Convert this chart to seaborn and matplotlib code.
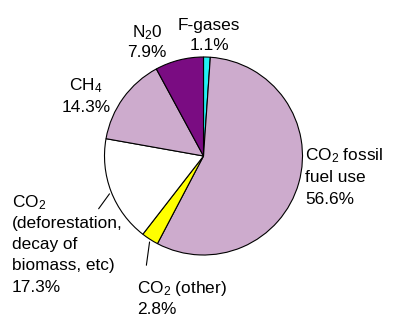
import numpy as np
import matplotlib
matplotlib.use("Agg")
import matplotlib.pyplot as plt
import seaborn as sns

# ---- data (clockwise from 12 o'clock) ----
labels = ["F-gases", "CO2 fossil fuel use", "CO2 (other)",
          "CO2 (deforestation, decay of biomass, etc)", "CH4", "N2O"]
shares = [1.1, 56.6, 2.8, 17.3, 14.3, 7.9]
colors = ["#22F0F4", "#CDABCD", "#FFFF00", "#FFFFFF", "#CDABCD", "#7A0C82"]

sns.set_theme(style="white")
plt.rcParams["font.family"] = ["Liberation Sans", "DejaVu Sans"]
plt.rcParams["mathtext.fontset"] = "custom"
plt.rcParams["mathtext.rm"] = "Liberation Sans"
plt.rcParams["mathtext.it"] = "Liberation Sans"

W, H = 402, 324
fig = plt.figure(figsize=(W / 100, H / 100), dpi=100)
fig.patch.set_facecolor("white")
ax = fig.add_axes([0, 0, 1, 1])

def Y(y):
    return H - y

cx, cy, R = 203.5, Y(156), 99
palette = sns.color_palette(colors)
wedges, _ = ax.pie(shares, colors=palette, startangle=90, counterclock=False,
                   center=(cx, cy), radius=R,
                   wedgeprops=dict(edgecolor="black", linewidth=0.8))
ax.set_xlim(0, W)
ax.set_ylim(0, H)
ax.set_aspect("equal")
ax.axis("off")

fs = 12.4

def line(x, y, s, ha="left"):
    ax.text(x, Y(y), s, ha=ha, va="baseline", fontsize=fs, color="black")

# F-gases
line(209, 30, "F-gases", "center")
line(209, 50, f"{shares[0]}%", "center")
# N2O
line(147, 37, "N$_\\mathregular{2}$0", "center")
line(147, 57, f"{shares[5]}%", "center")
# CH4
line(86, 90, "CH$_\\mathregular{4}$", "center")
line(86, 112, f"{shares[4]}%", "center")
# CO2 fossil
line(305, 160, "CO$_\\mathregular{2}$ fossil")
line(305, 182, "fuel use")
line(305, 204, f"{shares[1]}%")
# deforestation
line(12, 207, "CO$_\\mathregular{2}$")
line(12, 228, "(deforestation,")
line(12, 249, "decay of")
line(12, 270, "biomass, etc)")
line(12, 292, f"{shares[3]}%")
# other
line(137, 293, "CO$_\\mathregular{2}$ (other)")
line(137, 314, f"{shares[2]}%")

# leader lines from wedge mid-angle on rim
def rim(w):
    a = np.deg2rad((w.theta1 + w.theta2) / 2)
    return (cx + R * np.cos(a), cy + R * np.sin(a))

ax.annotate("", xy=rim(wedges[3]), xytext=(97, Y(211)),
            arrowprops=dict(arrowstyle="-", color="black", lw=0.8))
ax.annotate("", xy=rim(wedges[2]), xytext=(146, Y(268)),
            arrowprops=dict(arrowstyle="-", color="black", lw=0.8))

fig.savefig("out.png", dpi=100, facecolor="white")
